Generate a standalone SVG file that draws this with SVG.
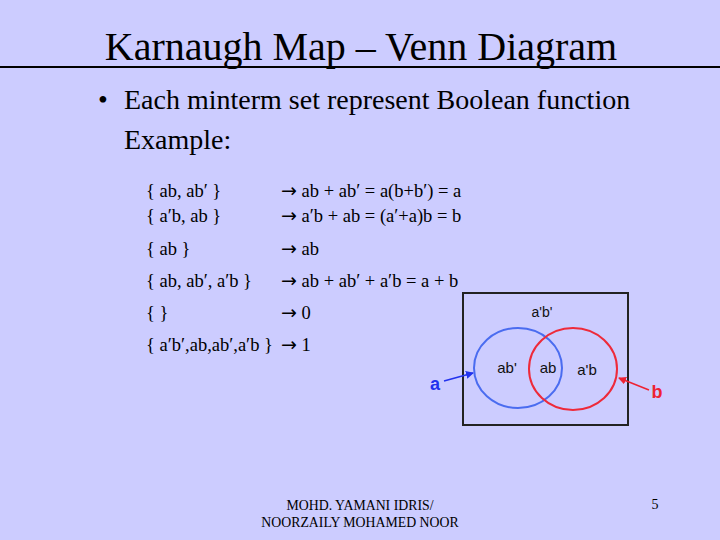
<svg xmlns="http://www.w3.org/2000/svg" width="720" height="540" viewBox="0 0 720 540">
<style>
.t{font-family:"Liberation Serif","Times New Roman",serif;fill:#000}
.s{font-family:"Liberation Sans",Arial,sans-serif;fill:#111}
.m{font-size:18.5px}
.ar{font-family:"DejaVu Sans",sans-serif;font-size:19px}
</style>
<defs>
<marker id="ab" markerWidth="8" markerHeight="8" refX="7" refY="4" orient="auto" markerUnits="userSpaceOnUse"><path d="M0,0 L8,4 L0,8 z" fill="#2233ee"/></marker>
<marker id="ar" markerWidth="8" markerHeight="8" refX="7" refY="4" orient="auto" markerUnits="userSpaceOnUse"><path d="M0,0 L8,4 L0,8 z" fill="#ee2233"/></marker>
</defs>
<rect width="720" height="540" fill="#ccccff"/>
<text class="t" x="361" y="60" text-anchor="middle" font-size="40">Karnaugh Map – Venn Diagram</text>
<line x1="0" y1="67" x2="720" y2="67" stroke="#000" stroke-width="2"/>
<text class="t" x="98" y="109" font-size="28">•</text>
<text class="t" x="124" y="109" font-size="28">Each minterm set represent Boolean function</text>
<text class="t" x="124" y="149" font-size="28">Example:</text>
<g id="list" class="t m">
<text x="146" y="197">{ ab, ab′ }</text><text x="281" y="197"><tspan class="ar">→</tspan> ab + ab′ = a(b+b′) = a</text>
<text x="146" y="222">{ a′b, ab }</text><text x="281" y="222"><tspan class="ar">→</tspan> a′b + ab = (a′+a)b = b</text>
<text x="146" y="255">{ ab }</text><text x="281" y="255"><tspan class="ar">→</tspan> ab</text>
<text x="146" y="287">{ ab, ab′, a′b }</text><text x="281" y="287"><tspan class="ar">→</tspan> ab + ab′ + a′b = a + b</text>
<text x="146" y="319">{ }</text><text x="281" y="319"><tspan class="ar">→</tspan> 0</text>
<text x="146" y="351">{ a′b′,ab,ab′,a′b }</text><text x="281" y="351"><tspan class="ar">→</tspan> 1</text>
</g>
<g id="universe"><rect x="463" y="293" width="165" height="132" fill="none" stroke="#222" stroke-width="2"/>
<text class="s" x="542" y="317" font-size="14" text-anchor="middle">a'b'</text></g>
<g id="setA"><ellipse cx="518" cy="368" rx="44" ry="40" fill="none" stroke="#4a6cf0" stroke-width="2"/>
<text class="s" x="507" y="373" font-size="15" text-anchor="middle">ab'</text></g>
<g id="setB"><ellipse cx="573" cy="369" rx="44" ry="41" fill="none" stroke="#ee2a3a" stroke-width="2"/>
<text class="s" x="587" y="375" font-size="15" text-anchor="middle">a'b</text></g>
<text class="s" x="548" y="373" font-size="15" text-anchor="middle">ab</text>
<g id="connectors">
<line x1="444" y1="381" x2="473" y2="373" stroke="#2233ee" stroke-width="1.5" marker-end="url(#ab)"/>
<line x1="649" y1="390" x2="619" y2="378" stroke="#ee2233" stroke-width="1.5" marker-end="url(#ar)"/>
</g>
<text class="s" x="435" y="390" font-size="18" font-weight="bold" text-anchor="middle" style="fill:#2233ee">a</text>
<text class="s" x="657" y="398" font-size="18" font-weight="bold" text-anchor="middle" style="fill:#ee2233">b</text>
<text class="t" x="360" y="510" font-size="13.8" text-anchor="middle">MOHD. YAMANI IDRIS/</text>
<text class="t" x="360" y="527" font-size="13.8" text-anchor="middle">NOORZAILY MOHAMED NOOR</text>
<text class="t" x="655" y="509" font-size="14" text-anchor="middle">5</text>
</svg>
